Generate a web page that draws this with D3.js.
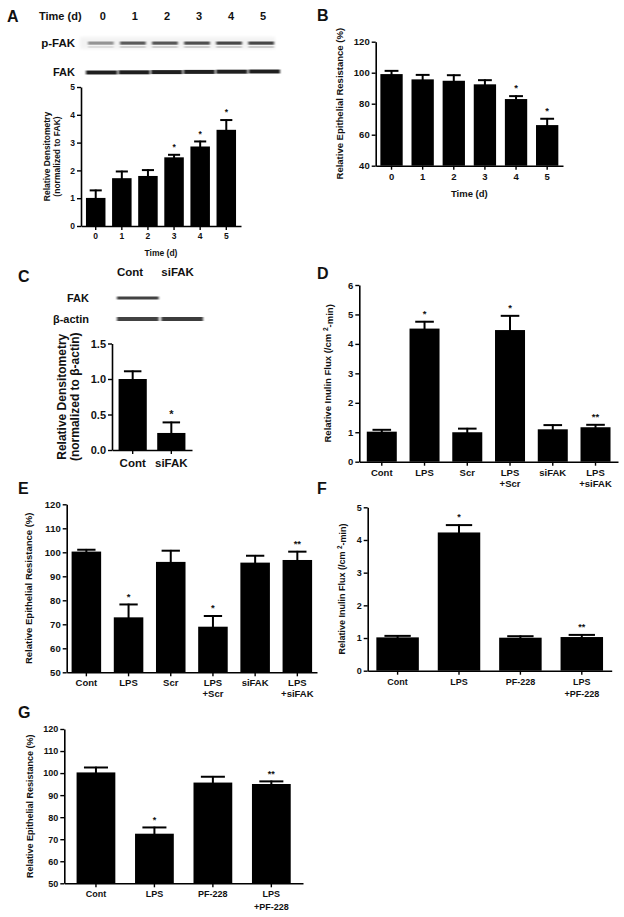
<!DOCTYPE html>
<html><head><meta charset="utf-8">
<script src="https://cdn.jsdelivr.net/npm/d3@7"></script>
<style>
body{margin:0;background:#fff;}
svg{display:block;}
text{font-family:"Liberation Sans",Arial,Helvetica,sans-serif;font-weight:bold;fill:#111;}
</style></head>
<body>
<svg id="fig" width="624" height="917"></svg>
<script>
// ---------- DATA ----------
const aLanes = ["0","1","2","3","4","5"];
const aPFak = [0.45, 0.72, 0.74, 0.78, 0.82, 0.82];
const aFak = [0.92, 0.92, 0.92, 0.92, 0.92, 0.92];
const aCats = [["0"],["1"],["2"],["3"],["4"],["5"]];
const aVals = [1.01, 1.72, 1.80, 2.47, 2.86, 3.46];
const aErr  = [0.30, 0.27, 0.24, 0.12, 0.21, 0.38];
const aSig  = ["","","","*","*","*"];
const aTicks = [0,1,2,3,4,5];

const bCats = [["0"],["1"],["2"],["3"],["4"],["5"]];
const bVals = [99.1, 95.7, 94.8, 92.5, 83.0, 66.2];
const bErr  = [2.6, 3.4, 4.1, 3.2, 2.4, 4.6];
const bSig  = ["","","","","*","*"];
const bTicks = [40,60,80,100,120];

const cLanes = ["Cont","siFAK"];
const cFak = [0.85, 0];
const cActin = [0.85, 0.88];
const cCats = [["Cont"],["siFAK"]];
const cVals = [1.00, 0.24];
const cErr  = [0.12, 0.16];
const cSig  = ["","*"];
const cTicks = [0,0.5,1.0,1.5];

const dCats = [["Cont"],["LPS"],["Scr"],["LPS","+Scr"],["siFAK"],["LPS","+siFAK"]];
const dVals = [1.02, 4.52, 1.00, 4.47, 1.10, 1.17];
const dErr  = [0.09, 0.26, 0.15, 0.51, 0.17, 0.11];
const dSig  = ["","*","","*","","**"];
const dTicks = [0,1,2,3,4,5,6];

const eCats = [["Cont"],["LPS"],["Scr"],["LPS","+Scr"],["siFAK"],["LPS","+siFAK"]];
const eVals = [100.3, 72.9, 96.0, 69.0, 95.7, 96.8];
const eErr  = [1.1, 5.7, 5.0, 4.8, 3.2, 3.8];
const eSig  = ["","*","","*","","**"];
const eTicks = [50,60,70,80,90,100,110,120];

const fCats = [["Cont"],["LPS"],["PF-228"],["LPS","+PF-228"]];
const fVals = [1.02, 4.23, 1.01, 1.03];
const fErr  = [0.07, 0.25, 0.07, 0.09];
const fSig  = ["","*","","**"];
const fTicks = [0,1,2,3,4,5];

const gCats = [["Cont"],["LPS"],["PF-228"],["LPS","+PF-228"]];
const gVals = [100.3, 72.5, 95.7, 95.05];
const gErr  = [2.6, 3.2, 3.0, 1.55];
const gSig  = ["","*","","**"];
const gTicks = [50,60,70,80,90,100,110,120];

// ---------- DRAW ----------
const svg = d3.select("#fig");
const defs = svg.append("defs");
defs.append("filter").attr("id","blur").attr("x","-20%").attr("y","-100%").attr("width","140%").attr("height","300%")
  .append("feGaussianBlur").attr("stdDeviation","0.9 0.7");
defs.append("filter").attr("id","blur2").attr("x","-20%").attr("y","-100%").attr("width","140%").attr("height","300%")
  .append("feGaussianBlur").attr("stdDeviation","1.5");

function letter(t,x,y){
  svg.append("text").attr("x",x).attr("y",y).attr("font-size",16).text(t);
}

function barPanel(c){
  const g = svg.append("g");
  const x = d3.scaleBand().domain(d3.range(c.vals.length)).range([c.left,c.right])
    .paddingInner(c.pIn).paddingOuter(c.pOut);
  const y = d3.scaleLinear().domain(c.domain).range([c.bottom,c.top]);
  const bw = x.bandwidth();
  const base = c.domain[0];

  g.selectAll("rect.bar").data(c.vals).join("rect").attr("class","bar")
    .attr("x",(d,i)=>x(i)).attr("width",bw)
    .attr("y",d=>y(d)).attr("height",d=>y(base)-y(d)).attr("fill","#000");

  const capW = bw*0.62;
  c.vals.forEach((v,i)=>{
    const cx = x(i)+bw/2, top = y(v+c.errs[i]);
    g.append("line").attr("x1",cx).attr("x2",cx).attr("y1",y(v)+1).attr("y2",top)
      .attr("stroke","#000").attr("stroke-width",2);
    g.append("line").attr("x1",cx-capW/2).attr("x2",cx+capW/2).attr("y1",top+0.8).attr("y2",top+0.8)
      .attr("stroke","#000").attr("stroke-width",2);
    if(c.sig[i]) g.append("text").attr("x",cx).attr("y",top-4).attr("text-anchor","middle")
      .attr("font-size",c.font).text(c.sig[i]);
  });

  const ya = g.append("g").attr("transform",`translate(${c.left},0)`)
    .call(d3.axisLeft(y).tickValues(c.ticks).tickSize(4).tickSizeOuter(0).tickPadding(2)
      .tickFormat(c.fmt || d3.format("d")));
  ya.select(".domain").attr("stroke","#000").attr("stroke-width",1.6);
  ya.selectAll(".tick line").attr("stroke","#000").attr("stroke-width",1.4);
  ya.selectAll(".tick text").attr("font-size",c.font).attr("font-family",null).attr("fill","#111");

  const xa = g.append("g").attr("transform",`translate(0,${c.bottom})`)
    .call(d3.axisBottom(x).tickSize(4).tickSizeOuter(0).tickFormat(""));
  xa.select(".domain").attr("stroke","#000").attr("stroke-width",1.6);
  xa.selectAll(".tick line").attr("stroke","#000").attr("stroke-width",1.4);

  c.cats.forEach((lines,i)=>{
    const t = g.append("text").attr("x",x(i)+bw/2).attr("y",c.bottom+c.labDy)
      .attr("text-anchor","middle").attr("font-size",c.xfont||c.font);
    lines.forEach((l,j)=>t.append("tspan").attr("x",x(i)+bw/2).attr("dy",j?c.lineH:0).text(l));
  });
  if(c.xTitle) g.append("text").attr("x",(c.left+c.right)/2).attr("y",c.xTitleY)
    .attr("text-anchor","middle").attr("font-size",c.font).text(c.xTitle);

  const yc = (c.top+c.bottom)/2;
  c.ylab.forEach((l,j)=>{
    const t = g.append("text").attr("transform",`translate(${c.ylabX[j]},${yc}) rotate(-90)`)
      .attr("text-anchor","middle").attr("dy","0.35em").attr("font-size",c.yfont||c.font);
    if(Array.isArray(l)){
      t.append("tspan").text(l[0]);
      t.append("tspan").attr("dy","-0.45em").attr("font-size","70%").text(l[1]);
      t.append("tspan").attr("dy","0.45em").text(l[2]);
    } else t.text(l);
  });
}

const flux = ["Relative Inulin Flux (/cm ","2","-min)"];

// ---- Panel A blots ----
letter("A",7,22);
svg.append("text").attr("x",39).attr("y",20).attr("font-size",11).text("Time (d)");
const lanesA = d3.scaleBand().domain(aLanes).range([88,274]).paddingInner(0.2);
aLanes.forEach(l=>svg.append("text").attr("x",lanesA(l)+lanesA.bandwidth()/2+2).attr("y",20)
  .attr("text-anchor","middle").attr("font-size",11).text(l));
svg.append("text").attr("x",75).attr("y",47).attr("text-anchor","end").attr("font-size",11.5).text("p-FAK");
svg.append("text").attr("x",75).attr("y",76).attr("text-anchor","end").attr("font-size",11).text("FAK");
svg.append("rect").attr("x",80).attr("y",37).attr("width",195).attr("height",12).attr("fill","#f3f3f3").attr("filter","url(#blur2)");
svg.selectAll("rect.pfak").data(aPFak).join("rect").attr("class","pfak")
  .attr("x",(d,i)=>lanesA(aLanes[i])).attr("width",lanesA.bandwidth())
  .attr("y",41.5).attr("height",3.2).attr("fill","#222").attr("opacity",d=>d).attr("filter","url(#blur)");
svg.selectAll("rect.pfak2").data(aPFak).join("rect").attr("class","pfak2")
  .attr("x",(d,i)=>lanesA(aLanes[i])).attr("width",lanesA.bandwidth())
  .attr("y",46).attr("height",2).attr("fill","#555").attr("opacity",d=>d*0.3).attr("filter","url(#blur)");
const lanesA2 = d3.scaleBand().domain(aLanes).range([86,280]).paddingInner(0.04);
svg.selectAll("rect.fak").data(aFak).join("rect").attr("class","fak")
  .attr("x",(d,i)=>lanesA2(aLanes[i])).attr("width",lanesA2.bandwidth())
  .attr("y",(d,i)=>70.5-i*0.2).attr("height",4).attr("fill","#111").attr("opacity",d=>d).attr("filter","url(#blur)");

barPanel({cats:aCats,vals:aVals,errs:aErr,sig:aSig,ticks:aTicks,domain:[0,5],
  left:81,right:241,top:87,bottom:226,pIn:0.253,pOut:0.19,font:8.5,labDy:12.5,lineH:10,
  xTitle:"Time (d)",xTitleY:256,ylab:["Relative Densitometry","(normalized to FAK)"],ylabX:[47,57]});

// ---- Panel B ----
letter("B",317,21);
barPanel({cats:bCats,vals:bVals,errs:bErr,sig:bSig,ticks:bTicks,domain:[40,120],
  left:375.7,right:563,top:41.7,bottom:165.7,pIn:0.283,pOut:0.15,font:9.5,labDy:14.5,lineH:11,
  xTitle:"Time (d)",xTitleY:197,ylab:["Relative Epithelial Resistance (%)"],ylabX:[340]});

// ---- Panel C blots ----
letter("C",18,282);
const lanesC = d3.scaleBand().domain(cLanes).range([117,203]).paddingInner(0.06);
cLanes.forEach(l=>svg.append("text").attr("x",lanesC(l)).attr("y",276).attr("font-size",11.5).text(l));
svg.append("text").attr("x",89).attr("y",302).attr("text-anchor","end").attr("font-size",11).text("FAK");
svg.append("text").attr("x",89).attr("y",323).attr("text-anchor","end").attr("font-size",11).text("β-actin");
svg.selectAll("rect.cfak").data(cFak).join("rect").attr("class","cfak")
  .attr("x",(d,i)=>lanesC(cLanes[i])).attr("width",lanesC.bandwidth())
  .attr("y",296.5).attr("height",3).attr("fill","#222").attr("opacity",d=>d).attr("filter","url(#blur)");
svg.selectAll("rect.cact").data(cActin).join("rect").attr("class","cact")
  .attr("x",(d,i)=>lanesC(cLanes[i])).attr("width",lanesC.bandwidth())
  .attr("y",317).attr("height",4).attr("fill","#222").attr("opacity",d=>d).attr("filter","url(#blur)");

barPanel({cats:cCats,vals:cVals,errs:cErr,sig:cSig,ticks:cTicks,domain:[0,1.5],fmt:d3.format(".1f"),
  left:112,right:192,top:343.5,bottom:450,pIn:0.27,pOut:0.17,font:11,xfont:11.5,yfont:12,labDy:17,lineH:12,
  ylab:["Relative Densitometry","(normalized to β-actin)"],ylabX:[62,75]});

// ---- Panel D ----
letter("D",317,279);
barPanel({cats:dCats,vals:dVals,errs:dErr,sig:dSig,ticks:dTicks,domain:[0,6],
  left:359.3,right:618,top:285,bottom:461.7,pIn:0.298,pOut:0.175,font:9.5,labDy:14,lineH:11,
  ylab:[flux],ylabX:[328]});

// ---- Panel E ----
letter("E",18,494);
barPanel({cats:eCats,vals:eVals,errs:eErr,sig:eSig,ticks:eTicks,domain:[50,120],
  left:66.7,right:317,top:504.3,bottom:672.3,pIn:0.3,pOut:0.116,font:9.5,labDy:13.5,lineH:11.5,
  ylab:["Relative Epithelial Resistance (%)"],ylabX:[29]});

// ---- Panel F ----
letter("F",317,494);
barPanel({cats:fCats,vals:fVals,errs:fErr,sig:fSig,ticks:fTicks,domain:[0,5],
  left:367.7,right:611.7,top:507.3,bottom:670.7,pIn:0.308,pOut:0.141,font:9,labDy:14,lineH:12,
  ylab:[flux],ylabX:[342]});

// ---- Panel G ----
letter("G",18,718);
barPanel({cats:gCats,vals:gVals,errs:gErr,sig:gSig,ticks:gTicks,domain:[50,120],
  left:64.3,right:303,top:729,bottom:883.3,pIn:0.337,pOut:0.21,font:9,labDy:13.5,lineH:13,
  ylab:["Relative Epithelial Resistance (%)"],ylabX:[30]});
</script>
</body></html>
